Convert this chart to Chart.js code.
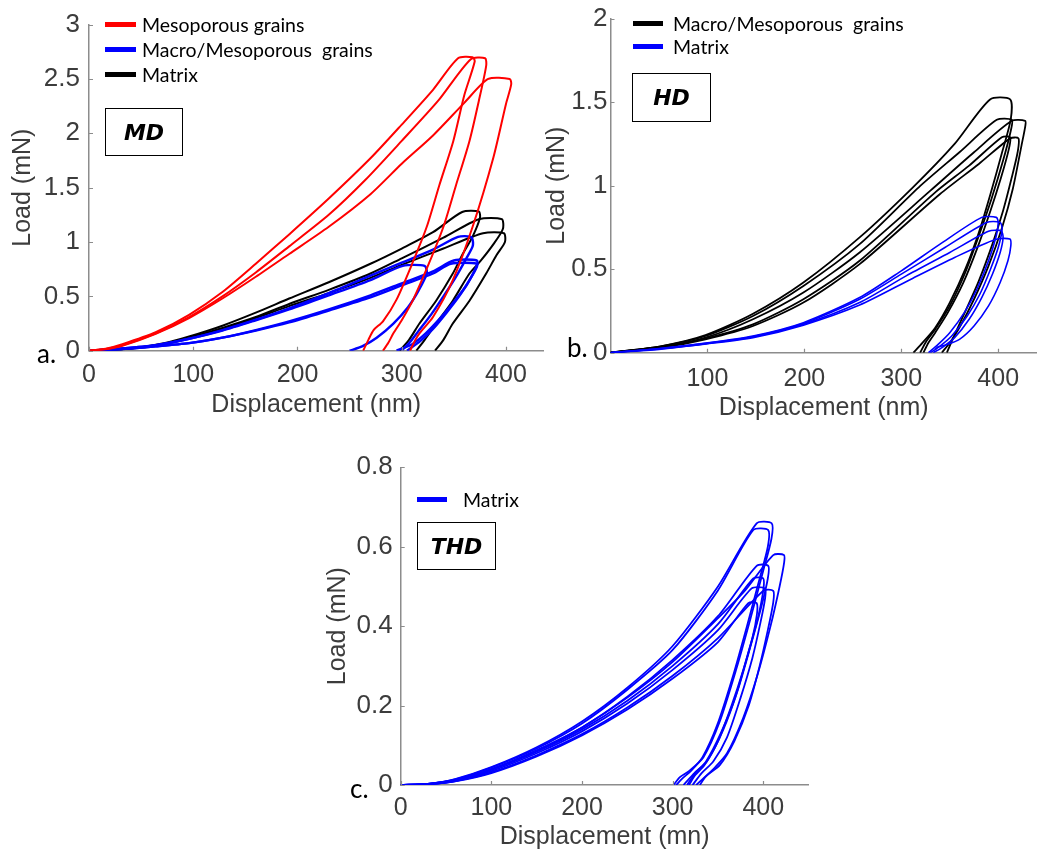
<!DOCTYPE html>
<html>
<head>
<meta charset="utf-8">
<script src="https://cdn.jsdelivr.net/npm/chart.js@4.4.1/dist/chart.umd.min.js"></script>
<style>
  html, body { margin: 0; padding: 0; background: #fff; }
  #page { position: relative; width: 1037px; height: 852px; overflow: hidden; background: #fff; }
  canvas { position: absolute; }
  .row { position: absolute; height: 25px; display: flex; align-items: center; font-family: Lato, sans-serif; font-size: 19.5px; color: #000; white-space: pre; }
  .swatch { height: 5px; }
  .tag { position: absolute; box-sizing: border-box; border: 1.5px solid #000; display: flex; align-items: center; justify-content: center; font: italic bold 22px "DejaVu Sans", sans-serif; color: #000; }
  .letter { position: absolute; font-family: Lato, sans-serif; font-size: 26px; line-height: 1; color: #000; }
</style>
</head>
<body>
<div id="page">
  <canvas id="chartMD" width="548" height="420" style="left:0;top:0"></canvas>
  <canvas id="chartHD" width="517" height="423" style="left:520px;top:0"></canvas>
  <canvas id="chartTHD" width="500" height="412" style="left:320px;top:440px"></canvas>

  <!-- legends -->
  <div class="row" style="left:105px;top:12px"><span class="swatch" style="width:31px;background:#ff0000;margin-right:6px"></span>Mesoporous grains</div>
  <div class="row" style="left:105px;top:37px"><span class="swatch" style="width:31px;background:#0000ff;margin-right:6px"></span>Macro/Mesoporous  grains</div>
  <div class="row" style="left:105px;top:62px"><span class="swatch" style="width:31px;background:#000;margin-right:6px"></span>Matrix</div>

  <div class="row" style="left:633px;top:11px"><span class="swatch" style="width:30px;background:#000;margin-right:10px"></span>Macro/Mesoporous  grains</div>
  <div class="row" style="left:633px;top:34px"><span class="swatch" style="width:30px;background:#0000ff;margin-right:10px"></span>Matrix</div>

  <div class="row" style="left:417px;top:487px"><span class="swatch" style="width:30px;background:#0000ff;margin-right:16px"></span>Matrix</div>

  <!-- sample tags -->
  <div class="tag" style="left:105px;top:108px;width:78px;height:48px">MD</div>
  <div class="tag" style="left:632px;top:73px;width:79px;height:49px">HD</div>
  <div class="tag" style="left:417px;top:522px;width:79px;height:48px">THD</div>

  <!-- panel letters -->
  <div class="letter" style="left:37px;top:340px">a.</div>
  <div class="letter" style="left:567px;top:334px">b.</div>
  <div class="letter" style="left:350px;top:775px">c.</div>
</div>

<script>
// =============================================
// DATA — [displacement nm, load mN]
// =============================================
const dispTicks    = [0, 100, 200, 300, 400];
const dispTicksHD  = [100, 200, 300, 400];
const loadTicksMD  = [0, 0.5, 1, 1.5, 2, 2.5, 3];
const loadTicksHD  = [0, 0.5, 1, 1.5, 2];
const loadTicksTHD = [0, 0.2, 0.4, 0.6, 0.8];

// a. MD — mesoporous grains (red)
const mdMeso1 = [[0,0],[16,0.018],[32,0.06],[64,0.17],[96,0.33],[128,0.54],[160,0.8],[192,1.07],[230,1.40],[270,1.77],[300,2.08],[330,2.40],[354,2.69],[368,2.70],[370,2.66],[360,2.35],[349.5,1.93],[336,1.52],[324,1.14],[310,0.8],[295,0.47],[282,0.27],[273,0.19],[268,0.1],[263,0]];
const mdMeso2 = [[0,0],[16,0.015],[32,0.05],[64,0.16],[96,0.31],[128,0.5],[160,0.72],[192,0.96],[230,1.25],[265,1.57],[300,1.93],[335,2.30],[366,2.68],[380,2.69],[381,2.62],[374,2.3],[365,1.93],[352,1.52],[340,1.14],[326,0.8],[311,0.47],[300,0.28],[292,0.16],[287,0.07],[282,0]];
const mdMeso3 = [[0,0],[16,0.013],[32,0.045],[64,0.155],[96,0.3],[128,0.48],[160,0.68],[192,0.89],[230,1.14],[270,1.44],[300,1.72],[330,1.98],[360,2.28],[383,2.5],[403.6,2.5],[405,2.45],[400,2.27],[388,1.78],[368,1.14],[349,0.65],[330,0.31],[317,0.16],[312,0.08],[308,0]];

// a. MD — macro/mesoporous grains (blue)
const mdMacro1 = [[0,0],[32,0.02],[64,0.05],[96,0.11],[128,0.19],[160,0.285],[192,0.39],[230,0.53],[270,0.69],[300,0.81],[330,0.93],[354,1.047],[366,1.05],[368,1.02],[368,0.96],[362,0.85],[352,0.68],[340,0.5],[328,0.33],[316,0.18],[308,0.08],[300,0]];
const mdMacro2 = [[0,0],[32,0.02],[64,0.05],[96,0.11],[128,0.185],[160,0.28],[192,0.38],[230,0.51],[270,0.65],[301,0.78],[322,0.78],[324,0.71],[316,0.55],[306,0.4],[292,0.25],[276,0.12],[262,0.04],[250,0]];
const mdMacro3 = [[0,0],[32,0.015],[64,0.04],[96,0.07],[128,0.12],[160,0.19],[192,0.27],[230,0.38],[270,0.51],[300,0.62],[330,0.73],[350,0.83],[372,0.83],[372,0.77],[365,0.65],[355,0.5],[343,0.35],[330,0.2],[318,0.09],[305,0]];
const mdMacro4 = [[0,0],[32,0.015],[64,0.04],[96,0.07],[128,0.12],[160,0.185],[192,0.26],[230,0.37],[270,0.49],[300,0.6],[330,0.71],[347,0.8],[372,0.8],[370,0.74],[362,0.6],[350,0.45],[337,0.3],[323,0.16],[310,0.06],[295,0]];

// a. MD — matrix (black)
const mdMatrix1 = [[0,0],[40,0.02],[73,0.07],[96,0.13],[128,0.23],[160,0.35],[192,0.48],[230,0.63],[270,0.8],[300,0.94],[330,1.09],[358,1.276],[374,1.28],[375,1.22],[368,1.05],[358,0.88],[349,0.71],[333,0.46],[317,0.25],[307,0.1],[298,0]];
const mdMatrix2 = [[0,0],[40,0.02],[73,0.065],[96,0.12],[128,0.21],[160,0.31],[192,0.43],[230,0.56],[270,0.71],[300,0.85],[340,1.04],[374,1.21],[396,1.21],[397,1.12],[388,0.98],[376,0.83],[365,0.71],[349,0.46],[333,0.25],[322,0.1],[314,0]];
const mdMatrix3 = [[0,0],[40,0.02],[73,0.06],[96,0.115],[128,0.2],[160,0.3],[192,0.41],[230,0.53],[270,0.67],[300,0.79],[340,0.94],[378,1.08],[398,1.08],[399,1.0],[391,0.88],[381,0.71],[365,0.46],[349,0.25],[340,0.1],[332,0]];

// b. HD — macro/mesoporous grains (black)
const hdMacro1 = [[0,0],[53,0.04],[98,0.105],[147,0.233],[199,0.42],[257,0.69],[312,0.99],[355,1.25],[391.6,1.516],[412.3,1.516],[413,1.40],[404,1.2],[392,0.95],[380,0.72],[366,0.5],[350,0.3],[335,0.15],[322,0.06],[312.5,0]];
const hdMacro2 = [[0,0],[53,0.04],[98,0.1],[147,0.22],[199,0.4],[257,0.65],[318,0.99],[360,1.2],[398.5,1.394],[414,1.394],[413,1.33],[405,1.15],[393,0.92],[380,0.7],[366,0.48],[350,0.28],[335,0.14],[326,0.07],[319.4,0]];
const hdMacro3 = [[0,0],[53,0.035],[98,0.09],[147,0.2],[199,0.36],[257,0.6],[330,0.97],[375,1.2],[414,1.388],[427.8,1.388],[428,1.36],[424,1.24],[415,0.98],[404,0.75],[390,0.52],[375,0.32],[360,0.15],[350,0.06],[341.8,0]];
const hdMacro4 = [[0,0],[53,0.035],[98,0.085],[147,0.17],[199,0.32],[257,0.55],[335,0.96],[370,1.12],[403.7,1.29],[412.3,1.29],[411,1.22],[403,1.05],[392,0.85],[378,0.62],[364,0.42],[348,0.24],[335,0.12],[328,0.06],[322.8,0]];
const hdMacro5 = [[0,0],[53,0.03],[98,0.08],[147,0.16],[199,0.3],[257,0.53],[340,0.95],[380,1.13],[412.3,1.283],[420.9,1.283],[420,1.2],[414,1.05],[405,0.85],[394,0.65],[380,0.43],[367,0.26],[356,0.12],[347,0]];

// b. HD — matrix (blue)
const hdMatrix1 = [[0,0],[50,0.025],[98.5,0.058],[147,0.1],[199,0.18],[257,0.33],[300,0.49],[340,0.65],[383,0.81],[398,0.81],[400,0.78],[398,0.7],[390,0.55],[378,0.38],[365,0.24],[350,0.12],[338,0.05],[328,0]];
const hdMatrix2 = [[0,0],[50,0.024],[98.5,0.056],[147,0.097],[199,0.175],[257,0.32],[300,0.47],[345,0.63],[388,0.78],[402,0.78],[404,0.74],[400,0.63],[392,0.5],[381,0.35],[368,0.22],[352,0.1],[340,0.04],[330,0]];
const hdMatrix3 = [[0,0],[50,0.022],[98.5,0.054],[147,0.094],[199,0.17],[257,0.3],[305,0.46],[350,0.6],[390,0.727],[403,0.73],[405,0.69],[402,0.6],[394,0.47],[383,0.33],[370,0.2],[355,0.09],[342,0.03],[333,0]];
const hdMatrix4 = [[0,0],[50,0.02],[98.5,0.052],[147,0.09],[199,0.165],[257,0.285],[310,0.44],[355,0.57],[397,0.678],[412,0.68],[413,0.64],[410,0.55],[402,0.42],[390,0.28],[375,0.16],[360,0.08],[345,0.045],[338,0.035],[335,0.02]];

// c. THD — matrix (blue)
const thdMatrix1 = [[0,0],[30,0.003],[60,0.015],[100,0.045],[150,0.095],[200,0.16],[250,0.245],[300,0.35],[350,0.5],[392.7,0.659],[409.3,0.659],[409,0.62],[400,0.54],[386,0.42],[370,0.29],[352,0.16],[334,0.07],[318,0.035],[308,0.02],[301,0]];
const thdMatrix2 = [[0,0],[30,0.003],[60,0.014],[100,0.044],[150,0.092],[200,0.155],[250,0.24],[300,0.34],[350,0.49],[389,0.642],[405.5,0.642],[405,0.6],[396,0.52],[382,0.4],[366,0.27],[349,0.15],[333,0.07],[320,0.035],[310,0.015],[304,0]];
const thdMatrix3 = [[0,0],[30,0.003],[60,0.012],[100,0.04],[150,0.085],[200,0.145],[250,0.22],[300,0.31],[350,0.42],[380,0.49],[411,0.579],[422.8,0.579],[423,0.56],[418,0.5],[408,0.4],[394,0.28],[378,0.17],[360,0.08],[345,0.04],[336,0.02],[330,0]];
const thdMatrix4 = [[0,0],[30,0.003],[60,0.012],[100,0.04],[150,0.088],[200,0.145],[250,0.222],[300,0.315],[350,0.425],[392.7,0.552],[405.5,0.552],[405,0.52],[398,0.45],[386,0.35],[372,0.24],[356,0.14],[338,0.06],[324,0.03],[312,0]];
const thdMatrix5 = [[0,0],[30,0.002],[60,0.011],[100,0.038],[150,0.084],[200,0.14],[250,0.212],[300,0.3],[350,0.405],[389,0.52],[400,0.52],[400,0.49],[394,0.42],[383,0.33],[369,0.22],[353,0.13],[337,0.06],[325,0.03],[316,0]];
const thdMatrix6 = [[0,0],[30,0.002],[60,0.01],[100,0.035],[150,0.08],[200,0.135],[250,0.205],[300,0.29],[350,0.39],[387.2,0.495],[401.9,0.495],[402,0.47],[397,0.41],[388,0.32],[375,0.22],[360,0.12],[345,0.06],[332,0.03],[322,0]];
const thdMatrix7 = [[0,0],[30,0.002],[60,0.01],[100,0.032],[150,0.075],[200,0.128],[250,0.195],[300,0.275],[350,0.37],[400,0.489],[411,0.489],[411,0.46],[405,0.39],[396,0.3],[384,0.2],[368,0.11],[352,0.05],[338,0.025],[326,0]];
const thdMatrix8 = [[0,0],[30,0.002],[60,0.009],[100,0.03],[150,0.072],[200,0.125],[250,0.19],[300,0.268],[350,0.36],[383.5,0.458],[392.7,0.458],[393,0.43],[388,0.37],[378,0.29],[365,0.2],[350,0.11],[335,0.05],[325,0.025],[318,0]];

// =============================================
// STYLE
// =============================================
const RED = '#ff0000', BLUE = '#0000ff', BLACK = '#000000';
const axisGrey = '#8c8c8c';
const labelGrey = '#3c3c3c';
const tickFont = '"Liberation Sans", Arial, sans-serif';

// MATLAB-style tick marks pointing into the plot
const innerTicks = {
    id: 'innerTicks',
    afterDraw(chart) {
        const { ctx, chartArea: a, scales: { x, y } } = chart;
        ctx.save();
        ctx.strokeStyle = axisGrey;
        ctx.lineWidth = 1.2;
        ctx.beginPath();
        x.ticks.forEach(t => {
            const px = Math.round(x.getPixelForValue(t.value)) + 0.5;
            ctx.moveTo(px, a.bottom); ctx.lineTo(px, a.bottom - 4);
        });
        y.ticks.forEach(t => {
            const py = Math.round(y.getPixelForValue(t.value)) + 0.5;
            ctx.moveTo(a.left, py); ctx.lineTo(a.left + 4, py);
        });
        ctx.stroke();
        ctx.restore();
    },
};

function curve(pts, color, width) {
    return {
        data: pts.map(([x, y]) => ({ x, y })),
        borderColor: color,
        borderWidth: width,
        showLine: true,
        pointRadius: 0,
        tension: 0.25,
        fill: false,
    };
}

function makePanel(id, o) {
    return new Chart(document.getElementById(id), {
        type: 'scatter',
        data: { datasets: o.datasets },
        options: {
            responsive: false,
            animation: false,
            events: [],
            layout: { padding: o.pad },
            plugins: { legend: { display: false }, tooltip: { enabled: false } },
            scales: {
                x: {
                    type: 'linear', min: 0, max: o.xMax,
                    afterBuildTicks: s => { s.ticks = o.xTicks.map(v => ({ value: v })); },
                    afterFit: s => { s.height = o.xH; },
                    grid: { display: false, drawTicks: false },
                    border: { display: true, color: axisGrey, width: 1.5 },
                    ticks: { padding: o.xPad, color: labelGrey, autoSkip: false, maxRotation: 0, callback: v => String(v), font: { family: tickFont, size: 25 } },
                    title: { display: true, text: o.xTitle, color: labelGrey, padding: { top: 0, bottom: 0 }, font: { family: tickFont, size: 25 } },
                },
                y: {
                    type: 'linear', min: 0, max: o.yTicks[o.yTicks.length - 1],
                    afterBuildTicks: s => { s.ticks = o.yTicks.map(v => ({ value: v })); },
                    afterFit: s => { s.width = o.yW; },
                    grid: { display: false, drawTicks: false },
                    border: { display: true, color: axisGrey, width: 1.5 },
                    ticks: { padding: o.yPad, color: labelGrey, autoSkip: false, callback: v => String(v), font: { family: tickFont, size: 26 } },
                    title: { display: true, text: 'Load (mN)', color: labelGrey, padding: { top: o.yTitlePad, bottom: 0 }, font: { family: tickFont, size: 25 } },
                },
            },
        },
        plugins: [innerTicks],
    });
}

// =============================================
// PANELS
// =============================================
makePanel('chartMD', {
    datasets: [
        curve(mdMeso1, RED, 2), curve(mdMeso2, RED, 2), curve(mdMeso3, RED, 2),
        curve(mdMacro1, BLUE, 2.4), curve(mdMacro2, BLUE, 2.4), curve(mdMacro3, BLUE, 2.4), curve(mdMacro4, BLUE, 2.4),
        curve(mdMatrix1, BLACK, 2), curve(mdMatrix2, BLACK, 2), curve(mdMatrix3, BLACK, 2),
    ],
    pad: { top: 24, right: 4.5, left: 0, bottom: 0 },
    xMax: 436, xTicks: dispTicks, yTicks: loadTicksMD,
    xH: 69.3, yW: 89, xPad: 9, yPad: 9, yTitlePad: 8,
    xTitle: 'Displacement (nm)',
});

makePanel('chartHD', {
    datasets: [
        curve(hdMatrix1, BLUE, 1.6), curve(hdMatrix2, BLUE, 1.6), curve(hdMatrix3, BLUE, 1.6), curve(hdMatrix4, BLUE, 1.6),
        curve(hdMacro1, BLACK, 1.8), curve(hdMacro2, BLACK, 1.8), curve(hdMacro3, BLACK, 1.8), curve(hdMacro4, BLACK, 1.8), curve(hdMacro5, BLACK, 1.8),
    ],
    pad: { top: 15, right: 0, left: 0, bottom: 0 },
    xMax: 440, xTicks: dispTicksHD, yTicks: loadTicksHD,
    xH: 70.3, yW: 90.5, xPad: 11, yPad: 3, yTitlePad: 22,
    xTitle: 'Displacement (nm)',
});

makePanel('chartTHD', {
    datasets: [
        curve(thdMatrix1, BLUE, 1.8), curve(thdMatrix2, BLUE, 1.8), curve(thdMatrix3, BLUE, 1.8), curve(thdMatrix4, BLUE, 1.8),
        curve(thdMatrix5, BLUE, 1.8), curve(thdMatrix6, BLUE, 1.8), curve(thdMatrix7, BLUE, 1.8), curve(thdMatrix8, BLUE, 1.8),
    ],
    pad: { top: 27.3, right: 11.4, left: 0, bottom: 0 },
    xMax: 450, xTicks: dispTicks, yTicks: loadTicksTHD,
    xH: 67, yW: 80.7, xPad: 8, yPad: 8, yTitlePad: 3,
    xTitle: 'Displacement (mn)',
});
</script>
</body>
</html>
